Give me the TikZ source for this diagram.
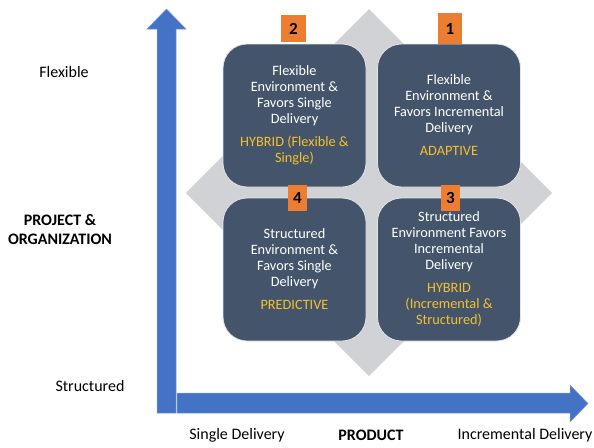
\documentclass[tikz,border=0pt]{standalone}
\usepackage{fontspec}
\setmainfont{Carlito}
\definecolor{axisblue}{HTML}{4472C4}
\definecolor{boxfill}{HTML}{44546A}
\definecolor{diagray}{HTML}{D0D2D5}
\definecolor{badge}{HTML}{ED7D31}
\definecolor{gold}{HTML}{F5C02E}
\begin{document}
\begin{tikzpicture}[x=1pt,y=-1pt,
  quad/.style={draw=white!85!boxfill, line width=0.8pt, fill=boxfill, rounded corners=24pt,
    minimum width=143pt, minimum height=143pt, text=white, align=center,
    font=\fontsize{14.3}{16}\selectfont, inner sep=0pt},
  badgebox/.style={fill=badge, minimum width=22pt, minimum height=26pt, inner sep=0pt,
    font=\fontsize{17}{17}\selectfont\bfseries},
  axlabel/.style={font=\fontsize{16}{19}\selectfont, align=center},
  axtitle/.style={font=\fontsize{16}{19}\selectfont\bfseries, align=center}]
\useasboundingbox (0,0) rectangle (594,447);
% diamond
\fill[diagray] (369,9) -- (552,193) -- (369,376) -- (186,193) -- cycle;
% axes
\fill[axisblue, draw=axisblue!70!white, line width=0.5pt]
  (157,413) -- (157,29) -- (147,29) -- (166.5,9) -- (186,29) -- (176,29) -- (176,413) -- cycle;
\fill[axisblue, draw=axisblue!70!white, line width=0.5pt]
  (177,393) -- (570,393) -- (570,385) -- (588,403.5) -- (570,422) -- (570,413) -- (177,413) -- cycle;
% quadrant boxes
\node[quad] (q2) at (294.5,115.5) {Flexible\\Environment \&\\Favors Single\\Delivery\\[7pt]\textcolor{gold}{HYBRID (Flexible \&}\\\textcolor{gold}{Single)}};
\node[quad] (q1) at (449,115.5) {Flexible\\Environment \&\\Favors Incremental\\Delivery\\[7pt]\textcolor{gold}{ADAPTIVE}};
\node[quad] (q4) at (294.5,269.5) {Structured\\Environment \&\\Favors Single\\Delivery\\[7pt]\textcolor{gold}{PREDICTIVE}};
\node[quad] (q3) at (449,269.5) {Structured\\Environment Favors\\Incremental\\Delivery\\[7pt]\textcolor{gold}{HYBRID}\\\textcolor{gold}{(Incremental \&}\\\textcolor{gold}{Structured)}};
% badges
\node[badgebox, minimum width=25pt, minimum height=27pt] (b2) at (293.5,28.5) {2};
\node[badgebox, minimum width=24pt, minimum height=31pt] (b1) at (450,28.5) {1};
\node[badgebox, minimum width=19pt] (b4) at (297.5,198) {4};
\node[badgebox, minimum width=19pt] (b3) at (450.5,198) {3};
% axis labels
\node[axlabel] (lflex) at (64,72) {Flexible};
\node[axtitle] (lproj) at (60,229.5) {PROJECT \&\\ORGANIZATION};
\node[axlabel] (lstruct) at (90,386) {Structured};
\node[axlabel] (lsingle) at (237,435) {Single Delivery};
\node[axtitle] (lprod) at (371,435.5) {PRODUCT};
\node[axlabel] (linc) at (525,435.5) {Incremental Delivery};
\end{tikzpicture}
\end{document}
